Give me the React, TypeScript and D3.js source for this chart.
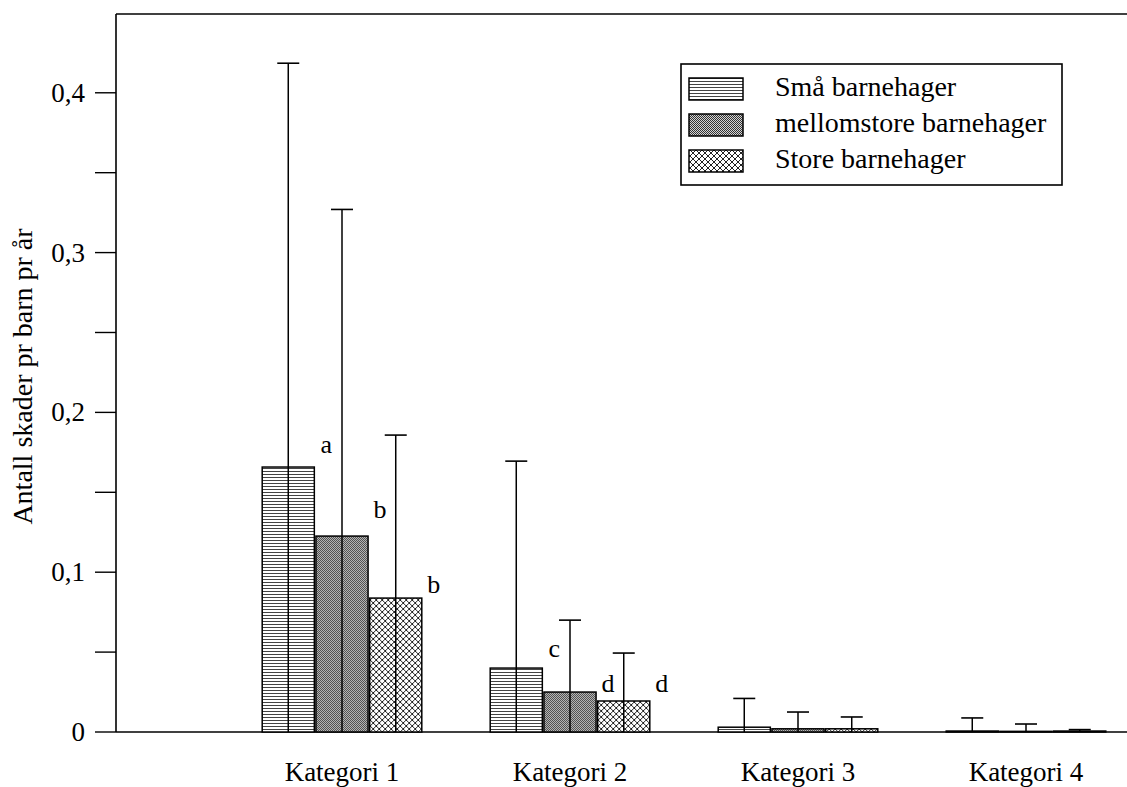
import React from "react";
import * as d3 from "d3";

const categories = ["Kategori 1", "Kategori 2", "Kategori 3", "Kategori 4"];
const seriesNames = ["Små barnehager", "mellomstore barnehager", "Store barnehager"];
const smaValues = [0.1658, 0.04, 0.003, 0.0006];
const mellomValues = [0.1226, 0.025, 0.002, 0.0004];
const storeValues = [0.0838, 0.0194, 0.002, 0.0006];
const smaErr = [0.4185, 0.1695, 0.021, 0.0088];
const mellomErr = [0.327, 0.07, 0.0125, 0.005];
const storeErr = [0.1858, 0.0494, 0.0094, 0.0015];
const majorTicks = [0, 0.1, 0.2, 0.3, 0.4];
const minorTicks = [0.05, 0.15, 0.25, 0.35];
const letterCats = ["Kategori 1", "Kategori 1", "Kategori 1", "Kategori 2", "Kategori 2", "Kategori 2"];
const letterSeries = [0, 1, 2, 0, 1, 2];
const letterLabels = ["a", "b", "b", "c", "d", "d"];
const letterValues = [0.1745, 0.1339, 0.087, 0.0469, 0.025, 0.025];

const W = 1127;
const H = 787;
const axisX = 116;
const plotTop = 14;
const plotBottom = 732;
const yMax = 0.4493;
const FONT = "Times New Roman, Liberation Serif, DejaVu Serif, serif";

const values = [smaValues, mellomValues, storeValues];
const errs = [smaErr, mellomErr, storeErr];
const fills = ["url(#pHoriz)", "url(#pChecker)", "url(#pCross)"];

export default function App() {
  const y = d3.scaleLinear().domain([0, yMax]).range([plotBottom, plotTop]);
  const x = d3
    .scaleBand<string>()
    .domain(categories)
    .range([228, 1140])
    .paddingInner(0.3)
    .paddingOuter(0.15);
  const xs = d3
    .scaleBand<number>()
    .domain([0, 1, 2])
    .range([0, x.bandwidth()])
    .paddingInner(0.03);
  const fmt = (v: number) => (v === 0 ? "0" : d3.format(".1f")(v).replace(".", ","));
  const capHalf = 11;
  const textStyle = { fontFamily: FONT };

  return (
    <div style={{ position: "absolute", left: 0, top: 0 }}>
      <svg width={W} height={H} style={{ display: "block", background: "#fff", fontFamily: FONT }}>
        <defs>
          <pattern id="pHoriz" width="4" height="3" patternUnits="userSpaceOnUse">
            <rect width="4" height="3" fill="#fff" />
            <line x1="0" y1="0.5" x2="4" y2="0.5" stroke="#444" strokeWidth="1" />
          </pattern>
          <pattern id="pChecker" width="2" height="2" patternUnits="userSpaceOnUse">
            <rect width="2" height="2" fill="#d4d4d4" />
            <rect x="0" y="0" width="1" height="1" fill="#333" />
            <rect x="1" y="1" width="1" height="1" fill="#333" />
          </pattern>
          <pattern id="pCross" width="6" height="6" patternUnits="userSpaceOnUse">
            <rect width="6" height="6" fill="#fff" />
            <path d="M0,0 L6,6 M6,0 L0,6" stroke="#222" strokeWidth="1" />
          </pattern>
        </defs>

        {/* frame */}
        <line x1={axisX} y1={plotTop} x2={W + 5} y2={plotTop} stroke="#000" strokeWidth={1.6} />
        <line x1={axisX} y1={plotTop} x2={axisX} y2={plotBottom} stroke="#000" strokeWidth={1.6} />
        <line x1={axisX} y1={plotBottom} x2={W + 5} y2={plotBottom} stroke="#000" strokeWidth={1.6} />

        {/* y ticks */}
        {majorTicks.map((t) => (
          <g key={"M" + t}>
            <line x1={axisX - 21} x2={axisX} y1={y(t)} y2={y(t)} stroke="#000" strokeWidth={1.4} />
            <text x={85} y={y(t) + 9} textAnchor="end" style={textStyle} fontSize={27} fill="#000">
              {fmt(t)}
            </text>
          </g>
        ))}
        {minorTicks.map((t) => (
          <line key={"m" + t} x1={axisX - 21} x2={axisX} y1={y(t)} y2={y(t)} stroke="#000" strokeWidth={1.4} />
        ))}

        {/* y title */}
        <text
          transform={`translate(32,${(223 + 530) / 2}) rotate(-90)`}
          textAnchor="middle"
          style={textStyle}
          fontSize={28}
          fill="#000"
        >
          Antall skader pr barn pr år
        </text>

        {/* bars */}
        {categories.map((c, ci) => (
          <g key={c} transform={`translate(${x(c)},0)`}>
            {values.map((vals, si) => {
              const bx = xs(si)!;
              const bw = xs.bandwidth();
              const cx = bx + bw / 2;
              return (
                <g key={si}>
                  <rect
                    x={bx}
                    y={y(vals[ci])}
                    width={bw}
                    height={plotBottom - y(vals[ci])}
                    fill={fills[si]}
                    stroke="#000"
                    strokeWidth={1.5}
                  />
                  <line x1={cx} x2={cx} y1={plotBottom} y2={y(errs[si][ci])} stroke="#000" strokeWidth={1.5} />
                  <line
                    x1={cx - capHalf}
                    x2={cx + capHalf}
                    y1={y(errs[si][ci])}
                    y2={y(errs[si][ci])}
                    stroke="#000"
                    strokeWidth={1.6}
                  />
                </g>
              );
            })}
            <text x={x.bandwidth() / 2} y={781} textAnchor="middle" style={textStyle} fontSize={27} fill="#000">
              {c}
            </text>
          </g>
        ))}

        {/* significance letters */}
        {letterLabels.map((l, i) => (
          <text
            key={"L" + i}
            x={x(letterCats[i])! + xs(letterSeries[i])! + xs.bandwidth() + 12}
            y={y(letterValues[i])}
            textAnchor="middle"
            style={textStyle}
            fontSize={26}
            fill="#000"
          >
            {l}
          </text>
        ))}

        {/* legend */}
        <g>
          <rect x={681} y={64} width={381} height={121} fill="#fff" stroke="#000" strokeWidth={1.6} />
          {seriesNames.map((n, i) => (
            <g key={n} transform={`translate(0,${i * 36})`}>
              <rect x={689} y={78} width={54} height={22} fill={fills[i]} stroke="#000" strokeWidth={1.5} />
              <text x={775} y={96} style={textStyle} fontSize={28} fill="#000">
                {n}
              </text>
            </g>
          ))}
        </g>
      </svg>
    </div>
  );
}
